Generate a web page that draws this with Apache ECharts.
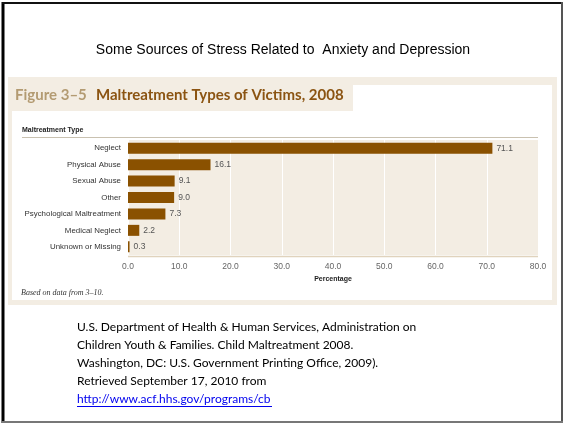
<!DOCTYPE html>
<html><head><meta charset="utf-8">
<script src="https://cdn.jsdelivr.net/npm/echarts@6/dist/echarts.min.js"></script>
<style>html,body{margin:0;padding:0;background:#fff;}#c{width:565px;height:424px;}</style>
</head><body><div id="c"></div>
<script>
const categories = ['Neglect','Physical Abuse','Sexual Abuse','Other','Psychological Maltreatment','Medical Neglect','Unknown or Missing'];
const values = [71.1, 16.1, 9.1, 9.0, 7.3, 2.2, 0.3];
const xTicks = ['0.0','10.0','20.0','30.0','40.0','50.0','60.0','70.0','80.0'];
const citation = [
  'U.S. Department of Health & Human Services, Administration on',
  'Children Youth & Families. Child Maltreatment 2008.',
  'Washington, DC: U.S. Government Printing Office, 2009).',
  'Retrieved September 17, 2010 from'
];
const link = 'http://www.acf.hhs.gov/programs/cb';

const chart = echarts.init(document.getElementById('c'), null, {renderer:'canvas'});
const beige = '#f3ede3';
const graphics = [
  {type:'rect', shape:{x:8,y:77,width:549,height:228}, style:{fill:beige}, z:-10},
  {type:'rect', shape:{x:12,y:111,width:540,height:189}, style:{fill:'#fff'}, z:-9},
  {type:'rect', shape:{x:353,y:85,width:199,height:30}, style:{fill:'#fff'}, z:-9},
  {type:'text', x:15, y:95, style:{text:'Figure 3–5', font:'bold 15px Lato', fill:'#b39b72', verticalAlign:'middle'}},
  {type:'text', x:96, y:95, style:{text:'Maltreatment Types of Victims, 2008', font:'bold 15px Lato', fill:'#8b5412', verticalAlign:'middle'}},
  {type:'line', shape:{x1:22,y1:137.5,x2:538,y2:137.5}, style:{stroke:'#c9c1b0', lineWidth:1}},
  {type:'text', x:22, y:130, style:{text:'Maltreatment Type', font:'bold 7px "Liberation Sans"', fill:'#222', verticalAlign:'middle'}},
  {type:'text', x:333, y:279, style:{text:'Percentage', font:'bold 7px "Liberation Sans"', fill:'#222', align:'center', verticalAlign:'middle'}},
  {type:'text', x:21, y:293, style:{text:'Based on data from 3–10.', font:'italic 8px "Liberation Serif"', fill:'#333', verticalAlign:'middle'}},
  {type:'text', x:283, y:50, style:{text:'Some Sources of Stress Related to  Anxiety and Depression', font:'14px "Liberation Sans"', fill:'#000', align:'center', verticalAlign:'middle'}},
  {type:'line', shape:{x1:3,y1:2,x2:3,y2:423}, style:{stroke:'#000', lineWidth:3}},
  {type:'line', shape:{x1:2,y1:3,x2:563,y2:3}, style:{stroke:'#111', lineWidth:2}},
  {type:'line', shape:{x1:562,y1:2,x2:562,y2:423}, style:{stroke:'#555', lineWidth:2}},
  {type:'line', shape:{x1:2,y1:422,x2:563,y2:422}, style:{stroke:'#777', lineWidth:2}},
  {type:'line', shape:{x1:128,y1:256.5,x2:538,y2:256.5}, style:{stroke:'#e0d3bd', lineWidth:1.5}}
];
citation.forEach((t,i)=>{
  graphics.push({type:'text', x:77, y:327+i*18, style:{text:t, font:'12px Lato', fill:'#000', verticalAlign:'middle'}});
});
graphics.push({type:'text', x:77, y:399, style:{text:link, font:'12px Lato', fill:'#0000ee', verticalAlign:'middle'}});
graphics.push({type:'line', shape:{x1:77,y1:406.5,x2:272,y2:406.5}, style:{stroke:'#0000ee', lineWidth:1}});

chart.setOption({
  animation:false,
  grid:{left:128, right:27, top:140, height:115, show:true, backgroundColor:beige, borderWidth:0},
  xAxis:{type:'value', min:0, max:80, interval:10,
    axisLine:{show:false}, axisTick:{show:false},
    splitLine:{show:true, lineStyle:{color:'#ffffff', width:1}},
    axisLabel:{formatter:(v)=>xTicks[Math.round(v/10)], fontSize:8.5, color:'#666', fontFamily:'Liberation Sans', margin:7}
  },
  yAxis:{type:'category', data:categories, inverse:true,
    axisLine:{show:false}, axisTick:{show:false},
    axisLabel:{fontSize:7.9, color:'#333', fontFamily:'Liberation Sans', margin:7}
  },
  series:[{type:'bar', data:values, barWidth:11,
    itemStyle:{color:'#8a5100'},
    label:{show:true, position:'right', formatter:(p)=>p.value.toFixed(1), fontSize:8.5, color:'#555', fontFamily:'Liberation Sans', distance:4}
  }],
  graphic:graphics
});
</script></body></html>
